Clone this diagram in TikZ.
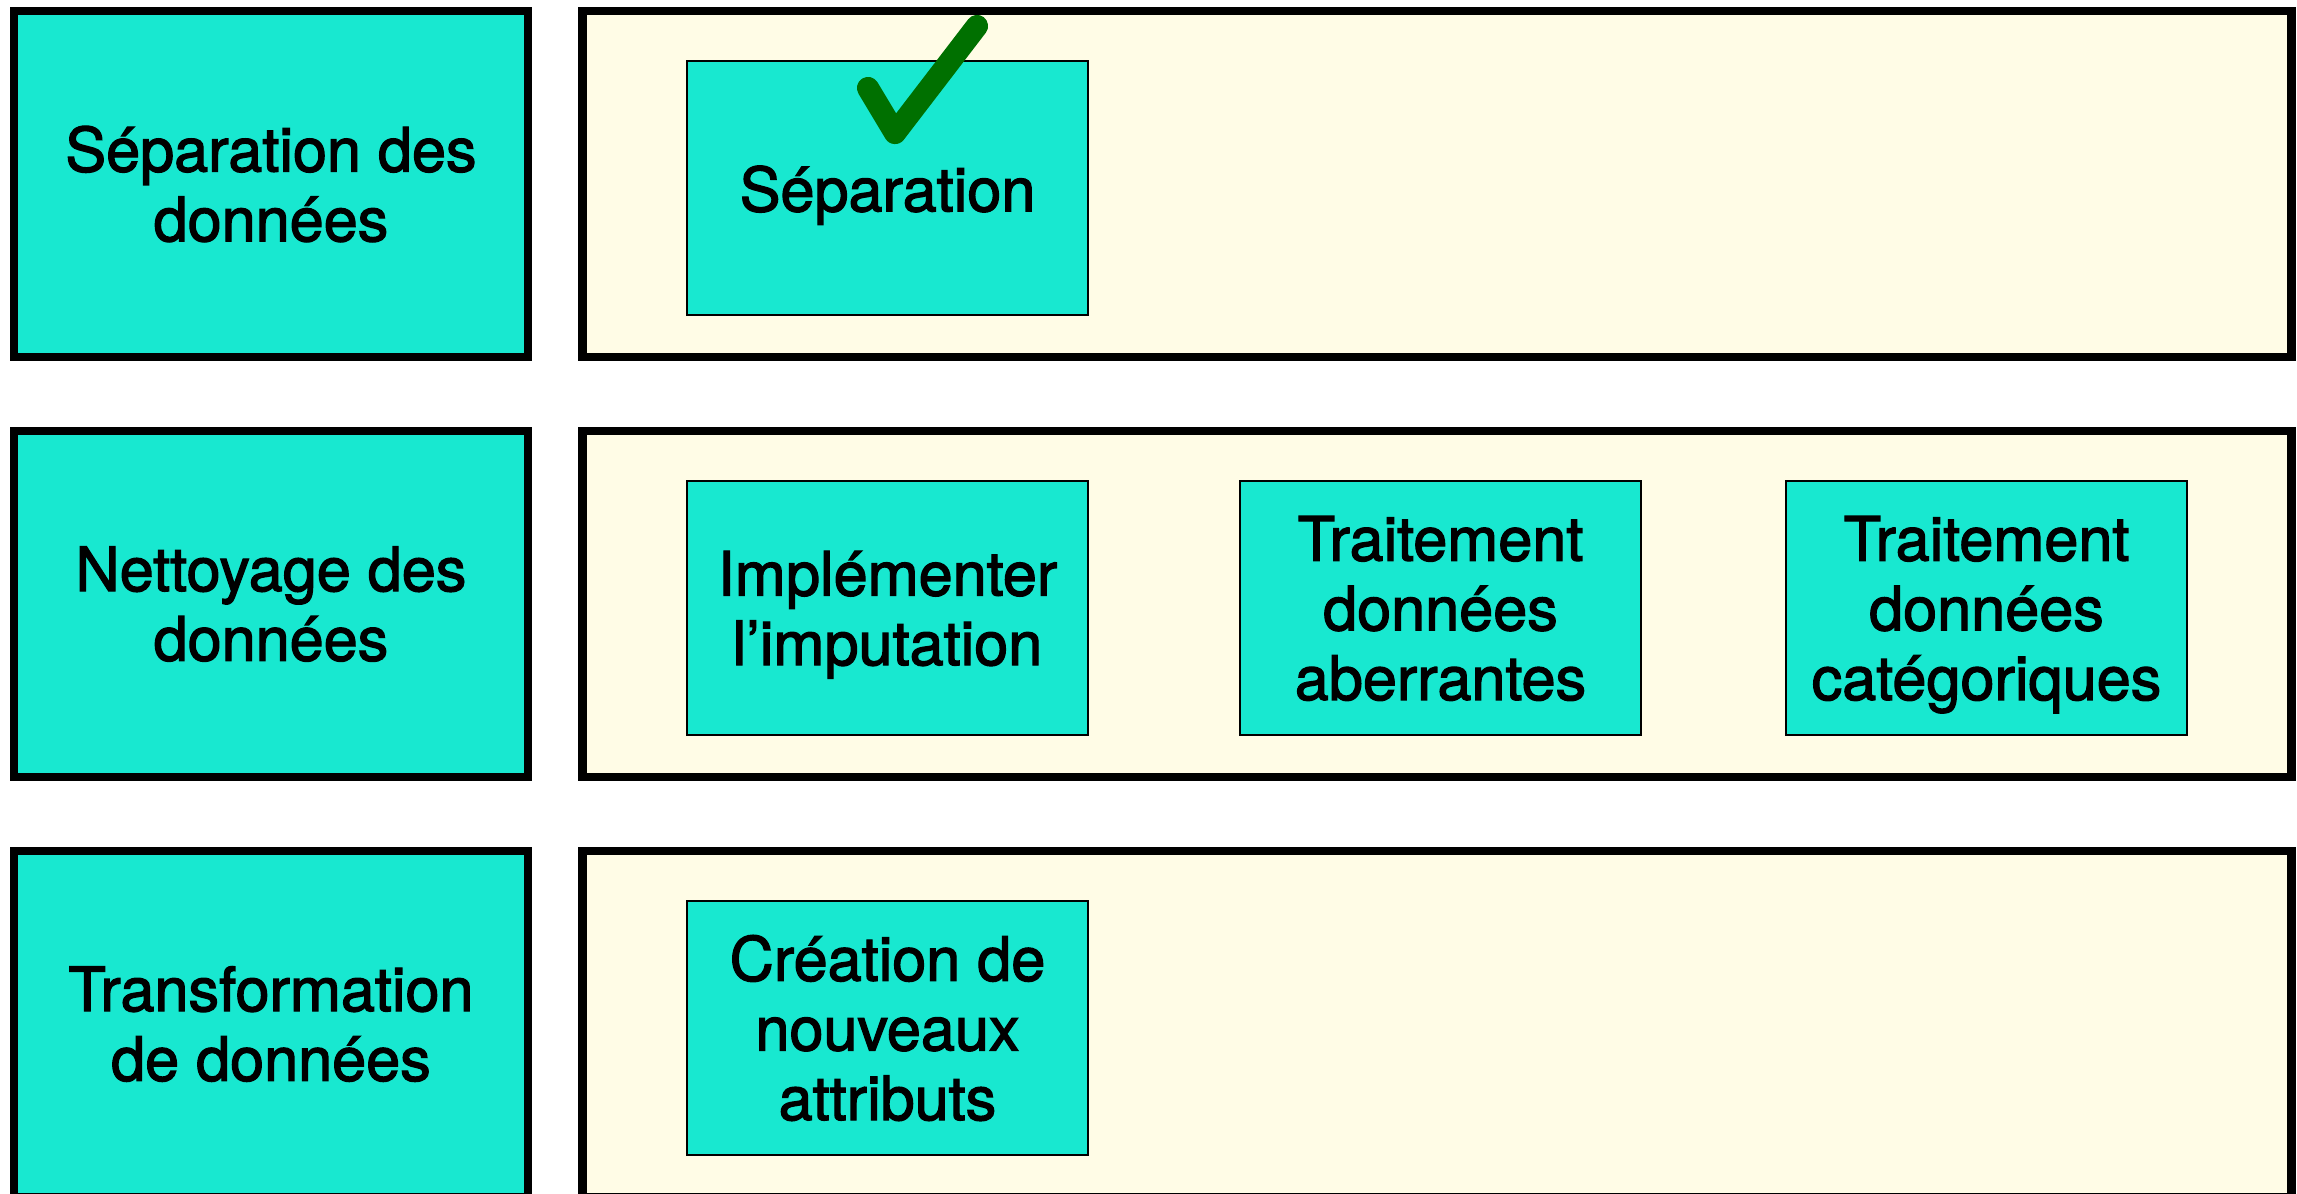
\documentclass[tikz,border=0pt]{standalone}
\usepackage{fontspec}
\setmainfont{TeX Gyre Heros}[FakeBold=2]
\definecolor{turq}{RGB}{24,232,208}
\definecolor{cream}{RGB}{255,252,230}
\definecolor{checkgreen}{RGB}{0,112,0}
\tikzset{
  labelbox/.style={draw=black, line width=2.3pt, fill=turq, minimum width=5.14cm, minimum height=3.46cm, inner sep=0pt, align=center, font=\fontsize{17.4pt}{19.8pt}\selectfont},
  lanebox/.style={draw=black, line width=2.3pt, fill=cream, minimum width=17.08cm, minimum height=3.46cm, inner sep=0pt},
  taskbox/.style={draw=black, line width=0.7pt, fill=turq, minimum width=4.01cm, minimum height=2.54cm, inner sep=0pt, align=center, font=\fontsize{17.4pt}{19.8pt}\selectfont},
  checkmark/.style={draw=checkgreen, line width=6.3pt, line cap=round, line join=round}
}
\begin{document}
\begin{tikzpicture}[x=0.01cm, y=-0.01cm]
\useasboundingbox (0,0) rectangle (2297,1194);
\clip (0,0) rectangle (2297,1194);
\fill[white] (0,0) rectangle (2297,1194);
% row 1
\node[labelbox] (l1) at (271,184) {Séparation des\\données};
\node[lanebox] (r1) at (1437,184) {};
\node[taskbox, text height=17pt, text depth=3.7pt] (t11) at (887.5,188) {Séparation};
% row 2
\node[labelbox] (l2) at (271,604) {Nettoyage des\\données};
\node[lanebox] (r2) at (1437,604) {};
\node[taskbox, text depth=0pt] (t21) at (887.5,608) {Implémenter\\l’imputation};
\node[taskbox, text depth=-1.5pt] (t22) at (1440.5,608) {Traitement\\données\\aberrantes};
\node[taskbox, text depth=-1pt] (t23) at (1986.5,608) {Traitement\\données\\catégoriques};
% row 3
\node[labelbox] (l3) at (271,1024) {Transformation\\de données};
\node[lanebox] (r3) at (1437,1024) {};
\node[taskbox] (t31) at (887.5,1028) {Création de\\nouveaux\\attributs};
% check mark
\coordinate (c1) at (868,88);
\coordinate (c2) at (895,133);
\coordinate (c3) at (977,26);
\draw[checkmark] (c1) -- (c2) -- (c3);
\end{tikzpicture}
\end{document}
